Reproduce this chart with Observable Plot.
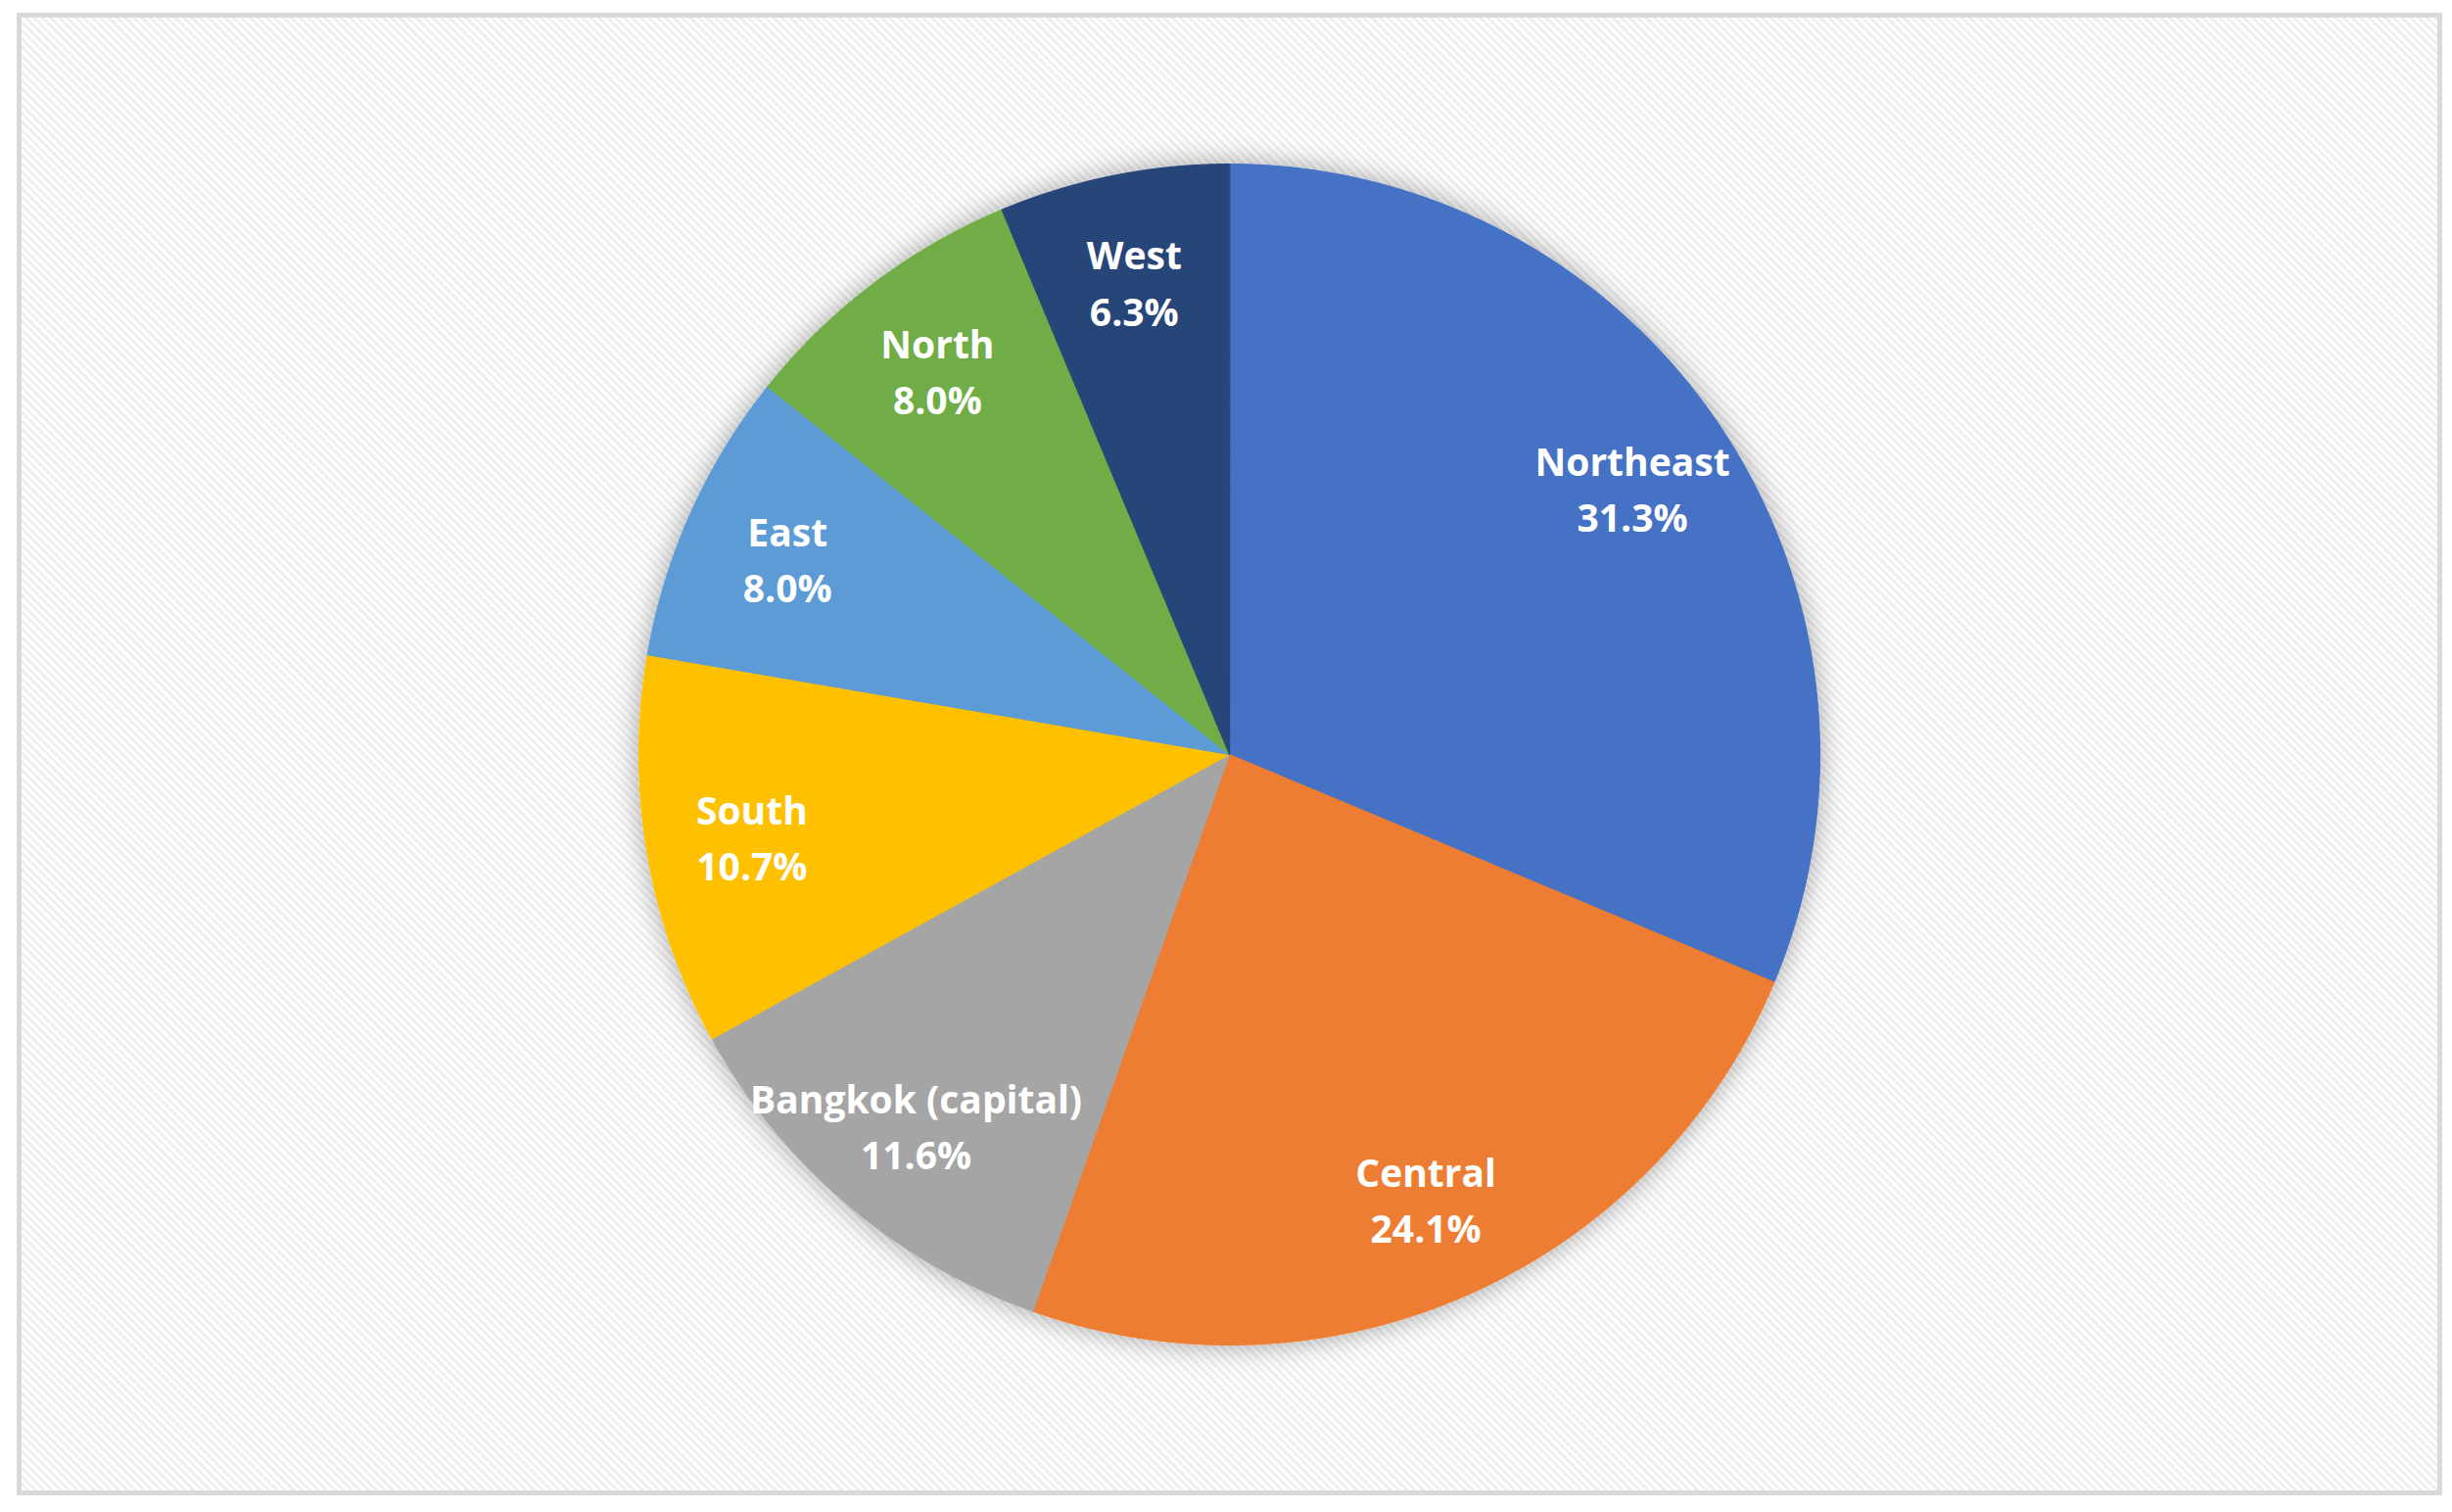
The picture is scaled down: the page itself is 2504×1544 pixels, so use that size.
<!DOCTYPE html>
<html>
<head>
<meta charset="utf-8">
<script src="https://cdn.jsdelivr.net/npm/d3@7"></script>
<script src="https://cdn.jsdelivr.net/npm/@observablehq/plot@0.6"></script>
<style>
  html, body { margin: 0; padding: 0; background: #ffffff; }
  #wrap { position: relative; width: 2504px; height: 1544px; overflow: hidden; }
  #bg {
    position: absolute; left: 17px; top: 13px; width: 2477px; height: 1514px;
    box-sizing: border-box; border: 5px solid #d9d9d9;
    background: repeating-linear-gradient(45deg, #ffffff 0px, #ffffff 3px, #efefef 3px, #efefef 6px);
  }
  #chart { position: absolute; left: 0; top: 0; }
</style>
</head>
<body>
<div id="wrap"><div id="bg"></div><div id="chart"></div></div>
<script>
const regions = ["Northeast", "Central", "Bangkok (capital)", "South", "East", "North", "West"];
const shares = [31.3, 24.1, 11.6, 10.7, 8.0, 8.0, 6.3];
const colors = ["#4472C4", "#ED7D31", "#A5A5A5", "#FFC000", "#5B9BD5", "#70AD47", "#264478"];

const total = d3.sum(shares);
const points = [];
const labels = [];
let cum = 0;
const step = Math.PI / 720;
regions.forEach((name, i) => {
  const a0 = cum / total * 2 * Math.PI;
  cum += shares[i];
  const a1 = cum / total * 2 * Math.PI;
  points.push({name, x: 0, y: 0});
  for (let a = a0; a < a1; a += step) points.push({name, x: Math.sin(a), y: Math.cos(a)});
  points.push({name, x: Math.sin(a1), y: Math.cos(a1)});
  const mid = (a0 + a1) / 2;
  const r = 0.82;
  labels.push({name, x: r * Math.sin(mid), y: r * Math.cos(mid), text: name + "\n" + shares[i].toFixed(1) + "%"});
});

const chart = Plot.plot({
  width: 2504,
  height: 1544,
  margin: 0,
  x: {domain: [-1, 1], range: [652, 1858], axis: null},
  y: {domain: [-1, 1], range: [1373, 167], axis: null},
  color: {domain: regions, range: colors},
  style: {background: "transparent", overflow: "visible"},
  marks: [
    Plot.line(points, {x: "x", y: "y", z: "name", fill: "name", stroke: "name", strokeWidth: 1, curve: "linear-closed"}),
    Plot.text(labels, {x: "x", y: "y", text: "text", fill: "white", fontSize: 39, fontWeight: "bold", fontFamily: "Open Sans", lineHeight: 1.47, lineAnchor: "middle"})
  ]
});

const svg = d3.select(chart);
const defs = svg.insert("defs", ":first-child");
const f = defs.append("filter").attr("id", "pieShadow").attr("x", "-20%").attr("y", "-20%").attr("width", "140%").attr("height", "140%");
f.append("feDropShadow").attr("dx", 0).attr("dy", 0).attr("stdDeviation", 14).attr("flood-color", "#000").attr("flood-opacity", 0.35);
svg.select("g[aria-label='line']").attr("filter", "url(#pieShadow)");

document.getElementById("chart").appendChild(chart);
</script>
</body>
</html>
